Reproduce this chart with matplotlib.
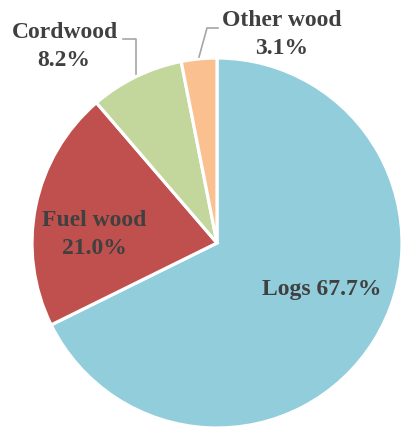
import matplotlib.pyplot as plt
from matplotlib.lines import Line2D

labels = ['Logs', 'Fuel wood', 'Cordwood', 'Other wood']
shares = [67.7, 21.0, 8.2, 3.1]
colors = ['#92CDDC', '#C0504D', '#C3D69B', '#FAC090']

W, H = 402, 429
fig = plt.figure(figsize=(W / 100, H / 100), dpi=100)

# pie centre and radius in pixels (from top-left)
cx, cy, r = 217, 243, 185
ax = fig.add_axes([(cx - r) / W, (H - cy - r) / H, 2 * r / W, 2 * r / H])
ax.pie(shares, colors=colors, startangle=90, counterclock=False,
       wedgeprops=dict(edgecolor='white', linewidth=2.3))
ax.set_xlim(-1, 1)
ax.set_ylim(-1, 1)


def fx(x):
    return x / W


def fy(y):
    return 1 - y / H


font = dict(family='Liberation Serif', weight='bold', size=17, color='#404040',
            ha='center', va='center')


def pct(v):
    return f'{v:.1f}%'


fig.text(fx(322), fy(290), f'{labels[0]} {pct(shares[0])}', **font)
fig.text(fx(94), fy(221), labels[1], **font)
fig.text(fx(94), fy(249), pct(shares[1]), **font)
fig.text(fx(65), fy(32), labels[2], **font)
fig.text(fx(64), fy(60), pct(shares[2]), **font)
fig.text(fx(282), fy(20), labels[3], **font)
fig.text(fx(282), fy(48), pct(shares[3]), **font)

# leader lines
for xs, ys in [([123, 136, 136], [39, 39, 74]),
               ([218, 207, 199], [28, 28, 57])]:
    fig.add_artist(Line2D([fx(v) for v in xs], [fy(v) for v in ys],
                          color='#A6A6A6', linewidth=1.2))

fig.savefig('out.png', dpi=100)
